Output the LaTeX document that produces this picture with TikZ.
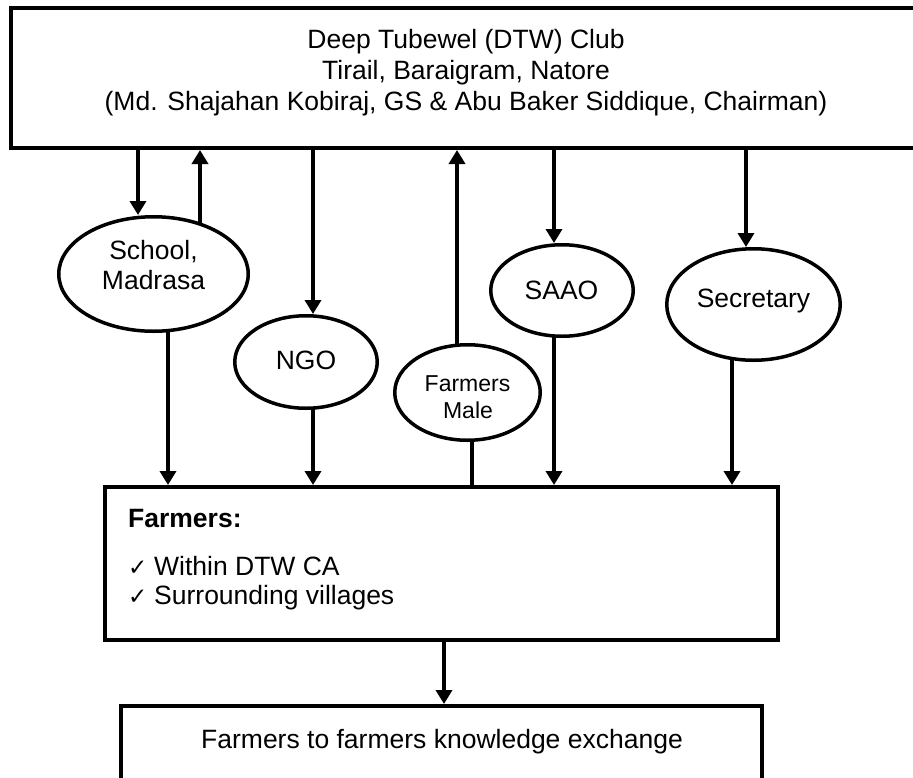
\documentclass[tikz,border=0pt]{standalone}
\usepackage{fontspec}
\setmainfont{Liberation Sans}
\newfontfamily\checkfont{DejaVu Sans}
\usetikzlibrary{arrows.meta,shapes.geometric,backgrounds}

\begin{document}
\begin{tikzpicture}[x=1pt,y=-1pt,
  box/.style={draw,line width=4pt,inner sep=0pt},
  oval/.style={ellipse,draw,line width=3.5pt,fill=white,inner sep=0pt},
  txt/.style={inner sep=0pt,anchor=base,font=\fontsize{26.5}{31}\selectfont},
  smalltxt/.style={inner sep=0pt,anchor=base,font=\fontsize{23}{27}\selectfont},
  arr/.style={line width=3.5pt,-{Triangle[width=16pt,length=14pt]}},
  con/.style={line width=3.5pt}]

\useasboundingbox (0,0) rectangle (913,777);
\clip (0,0) rectangle (913,777);

% boxes
\node[box,minimum width=914pt,minimum height=140pt] (club) at (468,78) {};
\node[box,minimum width=673pt,minimum height=153pt] (farmers) at (441.5,563.5) {};
\node[box,minimum width=641pt,minimum height=84pt] (final) at (441.5,748) {};

% ellipses
\node[oval,minimum width=189.5pt,minimum height=114.5pt] (school) at (153.5,274) {};
\node[oval,minimum width=142.5pt,minimum height=92.5pt] (ngo) at (306,362) {};
\node[oval,minimum width=145.5pt,minimum height=95.5pt] (fm) at (467.5,392.5) {};
\node[oval,minimum width=142.5pt,minimum height=91.5pt] (saao) at (562,290.5) {};
\node[oval,minimum width=173.5pt,minimum height=111.5pt] (sec) at (753.5,304.5) {};

% texts
\node[txt] (t1) at (466,48) {Deep Tubewel (DTW) Club};
\node[txt] (t2) at (466,79) {Tirail, Baraigram, Natore};
\node[txt] (t3) at (466,110) {(Md. Shajahan Kobiraj, GS \& Abu Baker Siddique, Chairman)};

\node[txt] (schoolA) at (153.5,259.5) {School,};
\node[txt] (schoolB) at (153.5,289.5) {Madrasa};
\node[txt] (ngotxt) at (306,369.5) {NGO};
\node[smalltxt] (fmA) at (467.5,391) {Farmers};
\node[smalltxt] (fmB) at (468,418) {Male};
\node[txt] (saaotxt) at (561.5,299.5) {SAAO};
\node[txt] (sectxt) at (753.5,307.5) {Secretary};

\node[txt,anchor=base west,font={\fontsize{26.5}{31}\selectfont\bfseries}] (ftitle) at (128,527.5) {Farmers:};
\node[txt,anchor=base west] (fA) at (128,575.5) {\makebox[26pt][l]{\checkfont\fontsize{23}{23}\selectfont ✓}Within DTW CA};
\node[txt,anchor=base west] (fB) at (128,604.5) {\makebox[26pt][l]{\checkfont\fontsize{23}{23}\selectfont ✓}Surrounding villages};

\node[txt] (finaltxt) at (442,748) {Farmers to farmers knowledge exchange};

% x positions of connectors
\coordinate (x1) at (138,0);
\coordinate (x2) at (200,0);
\coordinate (x3) at (168,0);
\coordinate (x4) at (313,0);
\coordinate (x5) at (457,0);
\coordinate (x6) at (472,0);
\coordinate (x7) at (554,0);
\coordinate (x8) at (746,0);
\coordinate (x9) at (732,0);
\coordinate (x10) at (444,0);

\begin{scope}[on background layer]
\draw[arr] (x1 |- club.south) -- (x1 |- school.north);
\draw[arr] (x2 |- school.center) -- (x2 |- club.south);
\draw[arr] (x3 |- school.center) -- (x3 |- farmers.north);
\draw[arr] (x4 |- club.south) -- (x4 |- ngo.north);
\draw[arr] (x4 |- ngo.center) -- (x4 |- farmers.north);
\draw[arr] (x5 |- fm.center) -- (x5 |- club.south);
\draw[con] (x6 |- fm.center) -- (x6 |- farmers.north);
\draw[arr] (x7 |- club.south) -- (x7 |- saao.north);
\draw[arr] (x7 |- saao.center) -- (x7 |- farmers.north);
\draw[arr] (x8 |- club.south) -- (x8 |- sec.north);
\draw[arr] (x9 |- sec.center) -- (x9 |- farmers.north);
\draw[arr] (x10 |- farmers.south) -- (x10 |- final.north);
\end{scope}
\end{tikzpicture}
\end{document}
